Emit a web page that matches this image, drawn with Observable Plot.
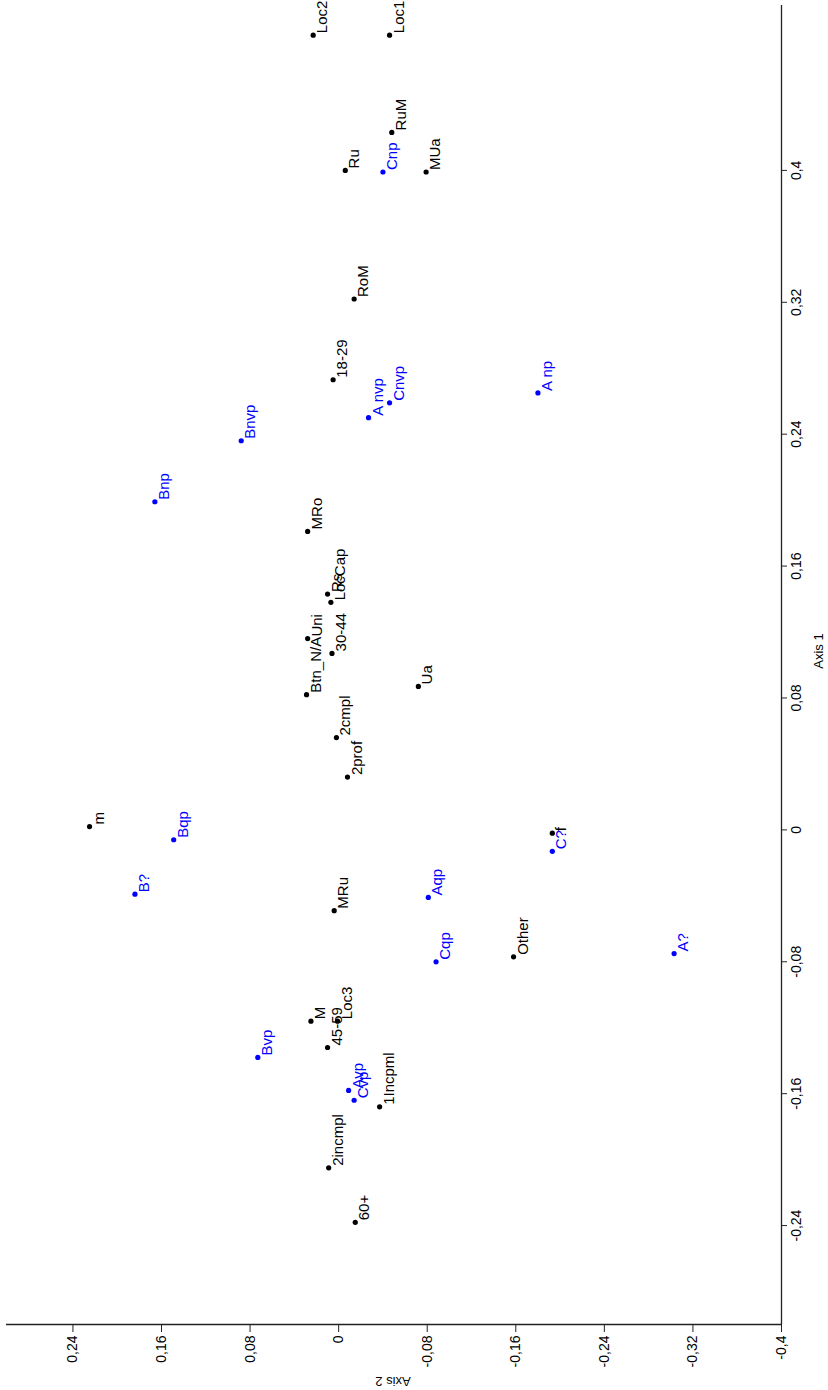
<!DOCTYPE html>
<html><head><meta charset="utf-8">
<script src="https://cdn.jsdelivr.net/npm/d3@7"></script>
<script src="https://cdn.jsdelivr.net/npm/@observablehq/plot@0.6"></script>
<style>body{margin:0;background:#fff} svg{display:block}</style>
</head><body><div id="chart"></div>
<script>
// Category points (black): label, Axis 1, Axis 2
const blackLabels = ["Loc2","Loc1","RuM","Ru","MUa","RoM","18-29","MRo","Rs","LocCap","Uni","30-44","Btn_N/A","Ua","2cmpl","2prof","m","f","MRu","Other","M","Loc3","45-59","1Incpml","2incmpl","60+"];
const blackAxis1 = [0.482,0.482,0.423,0.400,0.399,0.322,0.273,0.181,0.143,0.138,0.116,0.107,0.082,0.087,0.056,0.032,0.002,-0.002,-0.049,-0.077,-0.116,-0.116,-0.132,-0.168,-0.205,-0.238];
const blackAxis2 = [0.023,-0.046,-0.048,-0.006,-0.079,-0.014,0.005,0.028,0.010,0.007,0.028,0.006,0.029,-0.072,0.002,-0.008,0.225,-0.193,0.004,-0.158,0.025,0.001,0.010,-0.037,0.009,-0.015];
// Variable points (blue)
const blueLabels = ["Cnp","Cnvp","A nvp","A np","Bnvp","Bnp","Bqp","B?","C?","Aqp","Cqp","A?","Bvp","Avp","Cvp"];
const blueAxis1 = [0.399,0.259,0.250,0.265,0.236,0.199,-0.006,-0.039,-0.013,-0.041,-0.080,-0.075,-0.138,-0.158,-0.164];
const blueAxis2 = [-0.040,-0.046,-0.027,-0.180,0.088,0.166,0.149,0.184,-0.193,-0.081,-0.088,-0.303,0.073,-0.009,-0.014];
// Axis ticks
const axis2Ticks = [0.24,0.16,0.08,0,-0.08,-0.16,-0.24,-0.32,-0.4];
const axis1Ticks = [0.4,0.32,0.24,0.16,0.08,0,-0.08,-0.16,-0.24];

const points = [
  ...blackLabels.map((l,i)=>({label:l, a1:blackAxis1[i], a2:blackAxis2[i], color:"black"})),
  ...blueLabels.map((l,i)=>({label:l, a1:blueAxis1[i], a2:blueAxis2[i], color:"blue"}))
];
const fmt = d => d === 0 ? "0" : String(d).replace(".", ",");

const chart = Plot.plot({
  width: 828, height: 1390,
  marginLeft: 6, marginRight: 47, marginTop: 5, marginBottom: 66,
  style: {fontFamily: "'Liberation Sans', Arial, sans-serif", background: "white", color: "black"},
  x: {domain: [0.30, -0.40], axis: null},
  y: {domain: [-0.30, 0.50], axis: null},
  color: {type: "identity"},
  marks: [
    Plot.ruleY([-0.30], {stroke: "#222", strokeWidth: 1.3}),
    Plot.ruleX([-0.40], {stroke: "#222", strokeWidth: 1.3}),
    Plot.axisX(axis2Ticks, {anchor: "bottom", label: null, tickSize: 8, tickPadding: 3, tickFormat: fmt, tickRotate: -90, textAnchor: "end", lineAnchor: "middle", fontSize: 14, stroke: "#222"}),
    Plot.axisY(axis1Ticks, {anchor: "right", label: null, tickSize: 5, tickPadding: 5, tickFormat: fmt, tickRotate: -90, textAnchor: "middle", lineAnchor: "top", fontSize: 14, stroke: "#222"}),
    Plot.text(["Axis 1"], {frameAnchor: "right", dx: 37, dy: -14, rotate: -90, textAnchor: "middle", lineAnchor: "middle", fontSize: 13, fill: "black"}),
    Plot.text(["Axis 2"], {frameAnchor: "bottom", dx: -1, dy: 57, rotate: 180, textAnchor: "middle", lineAnchor: "middle", fontSize: 13, fill: "black"}),
    Plot.dot(points, {x: "a2", y: "a1", r: 2.6, fill: "color", stroke: "none"}),
    Plot.text(points, {x: "a2", y: "a1", text: "label", fill: "color", rotate: -90, textAnchor: "start", lineAnchor: "bottom", dx: 14, dy: -2, fontSize: 15})
  ]
});
document.getElementById("chart").appendChild(chart);
</script>
</body></html>
